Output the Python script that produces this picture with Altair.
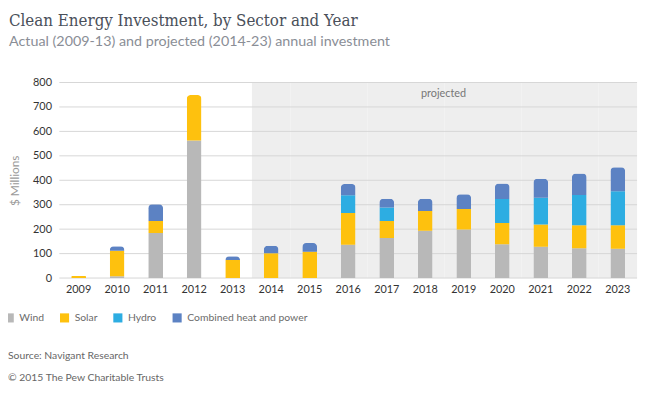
import altair as alt
import pandas as pd

years = [str(y) for y in range(2009, 2024)]
wind = [0, 7, 184, 563, 0, 0, 0, 136, 164, 194, 199, 138, 128, 122, 120]
solar = [8, 105, 49, 186, 74, 101, 108, 130, 69, 80, 83, 87, 91, 94, 96]
hydro = [0, 0, 0, 0, 0, 0, 0, 73, 56, 0, 0, 98, 110, 124, 139]
chp = [0, 18, 69, 0, 15, 31, 35, 46, 35, 50, 61, 64, 77, 88, 98]
sectors = ["Wind", "Solar", "Hydro", "Combined heat and power"]
colors = ["#b8b8b8", "#fec10e", "#2dade2", "#5c82c3"]
projected_years = years[5:]
grid_ticks = [0, 100, 200, 300, 400, 500, 600, 700, 800]
y_max = 800

rows = []
for i, y in enumerate(years):
    for k, (name, vals) in enumerate(zip(sectors, [wind, solar, hydro, chp])):
        if vals[i] > 0:
            rows.append({"year": y, "sector": name, "value": vals[i], "order": k})
df = pd.DataFrame(rows)
shade_df = pd.DataFrame({"year": projected_years, "top": [y_max] * len(projected_years)})
grid_df = pd.DataFrame({"v": grid_ticks})

font = "Lato"
xscale = alt.Scale(domain=years, paddingInner=0, paddingOuter=0)
yscale = alt.Scale(domain=[0, y_max], nice=False)
xaxis = alt.Axis(title=None, labelAngle=0, domain=False, ticks=False, grid=False,
                 labelFontSize=11, labelColor="#333333", labelFont=font, labelPadding=6)
yaxis = alt.Axis(title="$ Millions", grid=False, domain=False, ticks=False,
                 values=grid_ticks, labelOverlap=False, labelFontSize=11,
                 labelColor="#333333", labelFont=font, labelPadding=8,
                 titleFont=font, titleFontSize=12, titleFontWeight="normal",
                 titleColor="#9a9a9a", titlePadding=11)

shade = alt.Chart(shade_df).mark_bar(width={"band": 1}, color="#eeeeee").encode(
    x=alt.X("year:N", scale=xscale, sort=years, axis=xaxis),
    y=alt.Y("top:Q", scale=yscale, axis=yaxis),
)

grid = alt.Chart(grid_df).mark_rule(color="#d6d6d6", strokeWidth=1).encode(
    y=alt.Y("v:Q", scale=yscale, axis=yaxis)
)

bars = alt.Chart(df).mark_bar(width=15, cornerRadiusTopLeft=4, cornerRadiusTopRight=4).encode(
    x=alt.X("year:N", scale=xscale, sort=years, axis=xaxis),
    y=alt.Y("value:Q", scale=yscale, stack="zero", axis=yaxis),
    color=alt.Color("sector:N", scale=alt.Scale(domain=sectors, range=colors),
                    legend=alt.Legend(title=None, orient="none", direction="horizontal",
                                      legendX=-56, legendY=233, symbolType="square",
                                      symbolSize=85, symbolStrokeWidth=0, labelFont=font,
                                      labelFontSize=10.5, labelColor="#6b6b6b",
                                      columnPadding=15, labelOffset=5)),
    order=alt.Order("order:Q", sort="ascending"),
)

proj = alt.Chart().mark_text(font=font, fontSize=11, color="#777777").encode(
    x=alt.value(389), y=alt.value(12), text=alt.value("projected")
)
src = alt.Chart().mark_text(font=font, fontSize=10.5, color="#666666", align="left").encode(
    x=alt.value(-52), y=alt.value(277), text=alt.value("Source: Navigant Research")
)
cpy = alt.Chart().mark_text(font=font, fontSize=10.5, color="#666666", align="left").encode(
    x=alt.value(-52), y=alt.value(299), text=alt.value("© 2015 The Pew Charitable Trusts")
)

chart = alt.layer(shade, grid, bars, proj, src, cpy).properties(
    width=585, height=198,
    title=alt.TitleParams(
        text="Clean Energy Investment, by Sector and Year",
        subtitle="Actual (2009-13) and projected (2014-23) annual investment",
        anchor="start", frame="group", dx=-51, offset=27,
        font="DejaVu Serif Condensed", fontSize=17, fontWeight="normal", color="#4a505a",
        subtitleFont=font, subtitleFontSize=14.5, subtitleColor="#8a8e96", subtitlePadding=6,
    ),
    autosize=alt.AutoSizeParams(type="none"),
    padding={"left": 52, "top": 73, "right": 5, "bottom": 118},
).configure_view(stroke=None)

chart.save("out.html", embed_options={"renderer": "svg", "actions": False})
